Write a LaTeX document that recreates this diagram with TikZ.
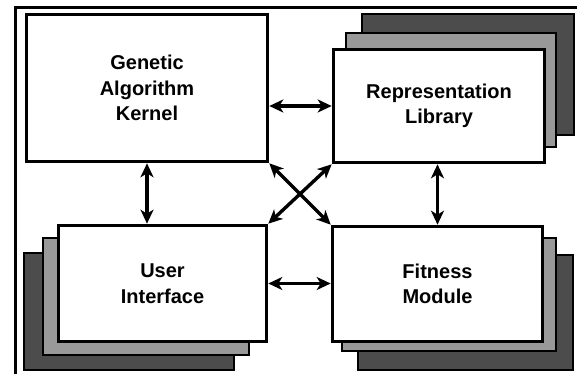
\documentclass[tikz,border=0pt]{standalone}
\usepackage{fontspec}
\setmainfont{Liberation Sans}
\usetikzlibrary{arrows.meta}
\tikzset{
  box/.style={draw,line width=3.6pt,fill=white,font=\bfseries\fontsize{20}{25.5}\selectfont,align=center,inner sep=0pt},
  shlight/.style={draw,line width=2.4pt,fill=black!40},
  shdark/.style={draw,line width=2.4pt,fill=black!70},
  link/.style={line width=3.4pt,{Stealth[length=14pt,width=13pt,inset=4pt]}-{Stealth[length=14pt,width=13pt,inset=4pt]}}
}
\begin{document}
\begin{tikzpicture}[x=1pt,y=-1pt]
\useasboundingbox (0,0) rectangle (579,374);
\draw[line width=3pt] (15,374) -- (15,8) -- (577,8);
% shadows
\draw[shdark] (362,14) rectangle (574,135);
\draw[shlight] (346,33) rectangle (556,147);
\draw[shdark] (24,253) rectangle (234,370);
\draw[shlight] (43,238) rectangle (249,355);
\draw[shdark] (358,255) rectangle (573,370);
\draw[shlight] (342,238) rectangle (556,351);
% boxes
\node[box,minimum width=241pt,minimum height=147pt] (GA) at (147,88) {Genetic\\Algorithm\\Kernel};
\node[box,minimum width=211pt,minimum height=113pt] (RL) at (439,106) {Representation\\Library};
\node[box,minimum width=208pt,minimum height=116pt] (UI) at (162.5,283.5) {User\\Interface};
\node[box,minimum width=210pt,minimum height=115pt] (FM) at (437.5,284) {Fitness\\Module};
% connectors
\draw[link] (GA.east |- RL.center) -- (RL.west);
\draw[link] (UI.east) -- (UI.east -| FM.west);
\draw[link] (GA.south) -- (GA.south |- UI.north);
\draw[link] (FM.north |- RL.south) -- (FM.north);
\draw[link] (GA.south east) -- (FM.north west);
\draw[link] (UI.north east) -- (RL.south west);
\end{tikzpicture}
\end{document}
